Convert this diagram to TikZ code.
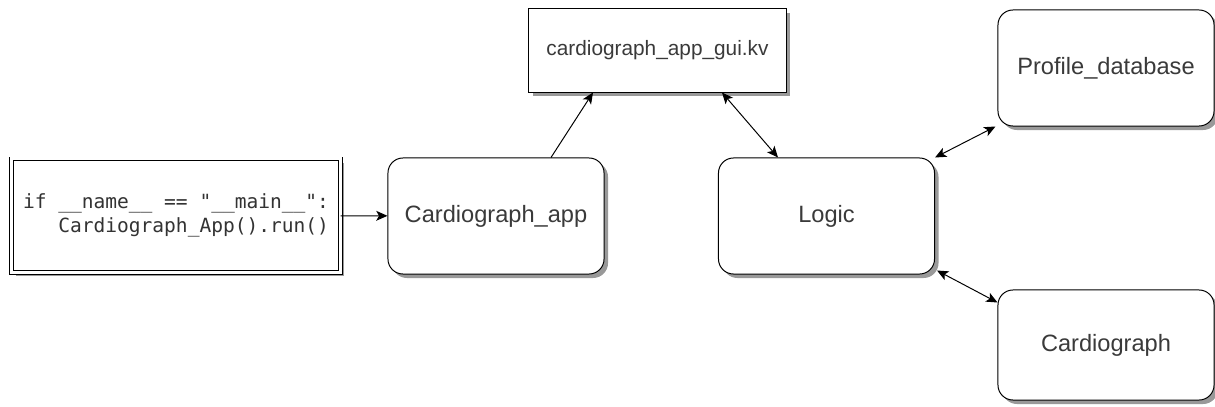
\documentclass[tikz,border=0pt]{standalone}
\usepackage{fontspec}
\setmainfont{Liberation Sans}
\setmonofont{DejaVu Sans Mono}
\usetikzlibrary{arrows.meta, positioning, calc, shadows}
\definecolor{textgray}{HTML}{3A3A3A}
\tikzset{
    every node/.style={text=textgray},
    shade/.style={
        drop shadow={shadow xshift=0.1cm, shadow yshift=-0.1cm, fill=black!40, opacity=1}
    }
}

\begin{document}
\begin{tikzpicture}[
    x=0.025cm,y=-0.025cm,
    line width=0.7pt,
    mybox/.style={
        draw,
        rounded corners=0.375cm,
        fill=white,
        shade,
        minimum width=5.4cm,
        minimum height=2.9cm,
        align=center,
        font=\fontsize{16.8}{20}\selectfont
    },
    myfile/.style={
        draw,
        fill=white,
        shade,
        minimum width=6.425cm,
        minimum height=2.075cm,
        align=center,
        font=\fontsize{14.8}{18}\selectfont
    },
    mycode/.style={
        draw,
        double,
        double distance=0.075cm,
        fill=white,
        shade,
        minimum width=8.2cm,
        minimum height=2.825cm,
        align=right,
        text=black!80,
        font=\ttfamily\fontsize{13.9}{17}\selectfont
    },
    myarrow/.style={-{Stealth[length=8pt,width=7pt,inset=2pt]}},
    mydouble/.style={{Stealth[length=8pt,width=7pt,inset=2pt]}-{Stealth[length=8pt,width=7pt,inset=2pt]}}
]
\useasboundingbox (0,0) rectangle (1215,407);

% entry point
\node[mycode] (main) at (176,215.5) {if \_\_name\_\_ == "\_\_main\_\_":\\Cardiograph\_App().run()};

% boxes
\node[mybox]  (app)     at (496,216)   {Cardiograph\_app};
\node[myfile] (gui)     at (657.5,50.5) {cardiograph\_app\_gui.kv};
\node[mybox]  (logic)   at (826.5,216) {Logic};
\node[mybox]  (profile) at (1106,68)   {Profile\_database};
\node[mybox, minimum height=2.75cm] (card) at (1106,345) {Cardiograph};

% connections
\draw[myarrow] (main) -- (app);
\draw[myarrow] ($(app.north)+(55,0)$) -- ($(gui.south)+(-64.5,0)$);
\draw[mydouble] ($(gui.south)+(64.5,0)$) -- ($(logic.north)+(-48.5,0)$);
\draw[mydouble] (logic.north east) -- ($(profile.south west)+(-2,0)$);
\draw[mydouble] ($(logic.south east)+(2,-4)$) -- ($(card.north west)+(0,13)$);

\end{tikzpicture}
\end{document}
